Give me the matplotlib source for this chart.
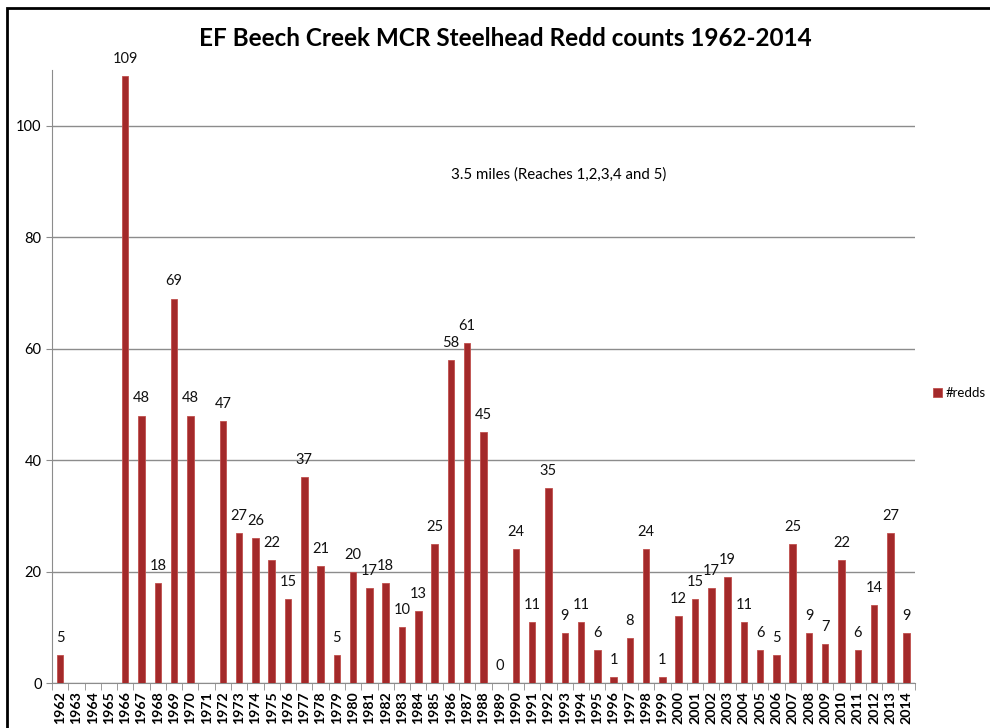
import numpy as np
import matplotlib.pyplot as plt
from matplotlib.patches import Rectangle

# redd counts per year (nan = no survey)
years = [str(y) for y in range(1962, 2015)]
redds = [5, np.nan, np.nan, np.nan, 109, 48, 18, 69, 48, np.nan,
         47, 27, 26, 22, 15, 37, 21, 5, 20, 17,
         18, 10, 13, 25, 58, 61, 45, 0, 24, 11,
         35, 9, 11, 6, 1, 8, 24, 1, 12, 15,
         17, 19, 11, 6, 5, 25, 9, 7, 22, 6,
         14, 27, 9]

plt.rcParams['font.family'] = ['Lato', 'DejaVu Sans']

fig = plt.figure(figsize=(9.9, 7.28), dpi=100)
ax = fig.add_axes([0.0525, 0.0618, 0.8715, 0.842])

x = np.arange(len(years))
bar_color = '#A3292A'
ax.bar(x, redds, width=0.4, color=bar_color, edgecolor='#C0504D',
       linewidth=0.6, label='#redds', zorder=3)

for xi, v in zip(x, redds):
    if not np.isnan(v):
        ax.text(xi, v + 1.8, f'{int(v)}', ha='center', va='bottom',
                fontsize=10.5, color='#111111')

ax.set_xlim(-0.5, len(years) - 0.5)
ax.set_ylim(0, 110)
ax.set_yticks([0, 20, 40, 60, 80, 100])
ax.yaxis.grid(True, color='#8C8C8C', linewidth=1, zorder=0)
ax.tick_params(axis='y', length=4, color='#8C8C8C', labelsize=10.5)

ax.set_xticks(x)
ax.set_xticklabels(years, rotation=90, fontsize=10.2, fontweight='bold')
ax.tick_params(axis='x', length=0, pad=6)
ax.set_xticks(np.arange(-0.5, len(years)), minor=True)
ax.tick_params(axis='x', which='minor', length=5, color='#8C8C8C')

for s in ['top', 'right']:
    ax.spines[s].set_visible(False)
for s in ['left', 'bottom']:
    ax.spines[s].set_color('#8C8C8C')

fig.text(0.51, 0.947, 'EF Beech Creek MCR Steelhead Redd counts 1962-2014',
         ha='center', va='center', fontsize=17.5, fontweight='bold')
ax.text(0.587, 0.83, '3.5 miles (Reaches 1,2,3,4 and 5)', transform=ax.transAxes,
        ha='center', va='center', fontsize=10.8)

fig.legend(handles=ax.containers[0][:1], labels=['#redds'], loc='center left',
           bbox_to_anchor=(0.942, 0.46), frameon=False, fontsize=9.5,
           handlelength=0.7, handleheight=0.7, handletextpad=0.3,
           borderaxespad=0, borderpad=0)

# black frame around the chart
fig.patches.append(Rectangle((7 / 990, -0.1), 1.2, 1 - 8 / 728 + 0.1,
                             transform=fig.transFigure, fill=False,
                             edgecolor='black', linewidth=2))

fig.savefig('out.png', dpi=100)
